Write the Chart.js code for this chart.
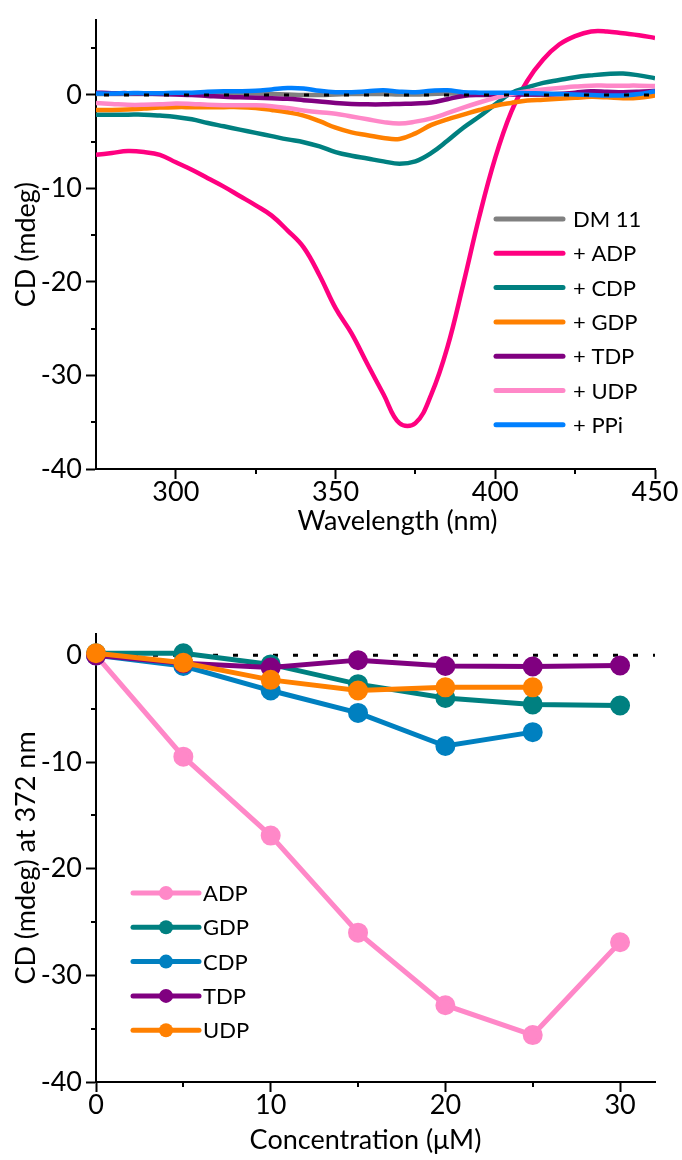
<!DOCTYPE html>
<html lang="en">
<head>
    <meta charset="UTF-8">
    <title>CD spectra</title>
    <script src="https://cdn.jsdelivr.net/npm/chart.js"></script>
    <style>
        body {
            margin: 0;
            background: #fff;
            font-family: Lato, sans-serif;
        }
        .wrap {
            position: relative;
            width: 682px;
            height: 1160px;
        }
        #spectra { position: absolute; left: 0; top: 0; }
        #titration { position: absolute; left: 0; top: 560px; }
    </style>
</head>
<body>
<div class="wrap">
    <canvas id="spectra" width="682" height="545"></canvas>
    <canvas id="titration" width="682" height="600"></canvas>
</div>

<script>
// ---- top panel: CD spectra (mdeg) ----
const wavelengths = [275, 280, 285, 290, 295, 300, 305, 310, 315, 320, 325, 330,
    335, 340, 345, 350, 355, 360, 365, 370, 375, 380, 385, 390,
    395, 400, 405, 410, 415, 420, 425, 430, 435, 440, 445, 450];

const dm11 = [0.1, 0.1, 0.1, 0.1, 0.1, 0.1, 0.1, 0.1, 0.1, 0.15, 0.15, 0.1,
    0.05, 0.0, 0.0, 0.05, 0.1, 0.1, 0.1, 0.05, 0.05, 0.1, 0.15, 0.15,
    0.1, 0.1, 0.1, 0.05, 0.05, 0.1, 0.1, 0.1, 0.1, 0.05, 0.05, 0.1];
const plusADP = [-6.4, -6.2, -6.0, -6.1, -6.4, -7.2, -8.0, -8.9, -9.8, -10.8, -11.8, -12.9,
    -14.5, -16.3, -19.3, -22.8, -25.5, -28.8, -32.0, -35.1, -35.1, -32.0, -27.0, -20.2,
    -13.0, -6.7, -1.8, 1.5, 3.8, 5.4, 6.3, 6.8, 6.8, 6.6, 6.4, 6.1];
const plusCDP = [-2.1, -2.1, -2.1, -2.1, -2.2, -2.35, -2.6, -3.0, -3.35, -3.7, -4.05, -4.4,
    -4.75, -5.05, -5.5, -6.1, -6.5, -6.8, -7.1, -7.35, -7.1, -6.2, -4.9, -3.5,
    -2.3, -1.0, 0.2, 0.8, 1.3, 1.6, 1.9, 2.1, 2.25, 2.3, 2.1, 1.8];
const plusGDP = [-1.6, -1.6, -1.55, -1.45, -1.35, -1.3, -1.3, -1.3, -1.3, -1.3, -1.4, -1.6,
    -1.85, -2.2, -2.8, -3.5, -4.0, -4.3, -4.6, -4.7, -4.1, -3.2, -2.6, -2.1,
    -1.6, -1.15, -0.85, -0.6, -0.5, -0.4, -0.3, -0.2, -0.25, -0.35, -0.3, -0.05];
const plusTDP = [0.25, 0.2, 0.2, 0.15, 0.1, 0.05, 0.0, -0.1, -0.2, -0.25, -0.3, -0.35,
    -0.4, -0.55, -0.7, -0.85, -0.95, -1.0, -1.0, -0.95, -0.9, -0.8, -0.45, -0.1,
    0.0, 0.0, 0.05, 0.05, 0.05, 0.1, 0.25, 0.4, 0.35, 0.3, 0.35, 0.45];
const plusUDP = [-0.85, -0.95, -1.05, -1.05, -1.0, -0.9, -0.95, -1.05, -1.1, -1.1, -1.1, -1.2,
    -1.4, -1.65, -1.85, -2.0, -2.3, -2.6, -2.9, -3.05, -2.85, -2.5, -1.95, -1.35,
    -0.8, -0.3, 0.1, 0.4, 0.6, 0.75, 0.9, 1.0, 1.0, 1.0, 1.0, 0.95];
const plusPPi = [0.15, 0.15, 0.2, 0.2, 0.2, 0.25, 0.25, 0.35, 0.4, 0.4, 0.45, 0.6,
    0.75, 0.7, 0.45, 0.3, 0.3, 0.4, 0.5, 0.35, 0.3, 0.45, 0.5, 0.3,
    0.25, 0.25, 0.25, 0.2, 0.15, 0.1, 0.05, 0.0, -0.05, -0.05, 0.1, 0.4];

const spectraLabels = ['DM 11', '+ ADP', '+ CDP', '+ GDP', '+ TDP', '+ UDP', '+ PPi'];
const spectraColors = ['#808080', '#ff0080', '#008080', '#ff8000', '#800080', '#ff88c8', '#0080ff'];
const spectraSeries = [dm11, plusADP, plusCDP, plusGDP, plusTDP, plusUDP, plusPPi];

const waveTicks = [300, 350, 400, 450];
const waveMinor = [325, 375, 425];
const cdTicks = [-40, -30, -20, -10, 0];
const cdMinor = [-35, -25, -15, -5, 5];

// ---- bottom panel: CD at 372 nm vs concentration ----
const concentrations = [0, 5, 10, 15, 20, 25, 30];
const adp372 = [0, -9.5, -16.9, -26.0, -32.8, -35.6, -26.9];
const gdp372 = [0.2, 0.2, -0.85, -2.7, -4.0, -4.6, -4.7];
const cdp372 = [0, -1.0, -3.3, -5.4, -8.5, -7.2];
const tdp372 = [0, -0.75, -1.15, -0.45, -1.0, -1.05, -0.95];
const udp372 = [0.2, -0.7, -2.3, -3.3, -3.0, -3.0];

const titrLabels = ['ADP', 'GDP', 'CDP', 'TDP', 'UDP'];
const titrColors = ['#ff88c8', '#008080', '#0080c0', '#800080', '#ff8000'];
const titrSeries = [adp372, gdp372, cdp372, tdp372, udp372];

const concTicks = [0, 10, 20, 30];
const concMinor = [5, 15, 25];
const cd372Ticks = [-40, -30, -20, -10, 0];
const cd372Minor = [-35, -25, -15, -5];

const FONT = 'Lato';

// short minor tick marks on both axes
const minorTicks = {
    id: 'minorTicks',
    afterDraw(chart, args, opts) {
        const {ctx, chartArea, scales} = chart;
        ctx.save();
        ctx.strokeStyle = '#000';
        ctx.lineWidth = 2;
        ctx.beginPath();
        opts.x.forEach(v => {
            const px = Math.round(scales.x.getPixelForValue(v));
            ctx.moveTo(px, chartArea.bottom);
            ctx.lineTo(px, chartArea.bottom + opts.len);
        });
        opts.y.forEach(v => {
            const py = Math.round(scales.y.getPixelForValue(v));
            ctx.moveTo(chartArea.left, py);
            ctx.lineTo(chartArea.left - opts.len, py);
        });
        ctx.stroke();
        ctx.restore();
    }
};

// x axis title, placed by hand
const xTitle = {
    id: 'xTitle',
    afterDraw(chart, args, opts) {
        const {ctx, chartArea} = chart;
        ctx.save();
        ctx.font = '27px ' + FONT;
        ctx.fillStyle = '#000';
        ctx.textAlign = 'center';
        ctx.textBaseline = 'middle';
        ctx.fillText(opts.text, (chartArea.left + chartArea.right) / 2 + opts.dx, opts.y);
        ctx.restore();
    }
};

// legend drawn inside the plot
const insetLegend = {
    id: 'insetLegend',
    afterDatasetsDraw(chart, args, opts) {
        const ctx = chart.ctx;
        ctx.save();
        ctx.font = '22px ' + FONT;
        ctx.textBaseline = 'middle';
        let row = 0;
        chart.data.datasets.forEach(ds => {
            if (!ds.label) return;
            const y = opts.y + row * opts.gap;
            ctx.strokeStyle = ds.borderColor;
            ctx.lineWidth = 5;
            ctx.lineCap = 'round';
            ctx.beginPath();
            ctx.moveTo(opts.x, y);
            ctx.lineTo(opts.x + opts.len, y);
            ctx.stroke();
            if (opts.marker) {
                ctx.fillStyle = ds.borderColor;
                ctx.beginPath();
                ctx.arc(opts.x + opts.len / 2, y, 7, 0, Math.PI * 2);
                ctx.fill();
            }
            ctx.fillStyle = '#000';
            ctx.fillText(ds.label, opts.x + opts.len + opts.textGap, y + 1);
            row++;
        });
        ctx.restore();
    }
};

function axisOpts(min, max, ticks, pad, extra) {
    return Object.assign({
        type: 'linear',
        min: min,
        max: max,
        afterBuildTicks: scale => { scale.ticks = ticks.map(v => ({value: v})); },
        border: {display: true, color: '#000', width: 2},
        grid: {display: true, drawOnChartArea: false, drawTicks: true, tickLength: 10, tickColor: '#000', tickWidth: 2},
        ticks: {color: '#000', font: {family: FONT, size: 27}, padding: pad}
    }, extra);
}

const spectraSets = spectraSeries.map((vals, i) => ({
    label: spectraLabels[i],
    data: vals.map((v, j) => ({x: wavelengths[j], y: v})),
    borderColor: spectraColors[i],
    backgroundColor: spectraColors[i],
    borderWidth: 4.5,
    pointRadius: 0,
    tension: 0.4,
    order: spectraSeries.length - i
}));
spectraSets.push({
    label: '',
    data: [{x: 275, y: 0}, {x: 450, y: 0}],
    borderColor: '#000',
    borderWidth: 3,
    borderDash: [5, 15],
    borderDashOffset: 12,
    pointRadius: 0,
    order: -1
});

new Chart(document.getElementById('spectra'), {
    type: 'line',
    data: {datasets: spectraSets},
    options: {
        responsive: false,
        animation: false,
        devicePixelRatio: 1,
        layout: {padding: {top: 18, right: 27, left: 0, bottom: 0}},
        plugins: {
            legend: {display: false},
            tooltip: {enabled: false},
            minorTicks: {x: waveMinor, y: cdMinor, len: 5},
            xTitle: {text: 'Wavelength (nm)', dx: 22, y: 521},
            insetLegend: {x: 496, y: 219, gap: 34.3, len: 67, textGap: 10, marker: false}
        },
        scales: {
            x: axisOpts(275, 450, waveTicks, -3, {
                afterFit: scale => { scale.height = 76; }
            }),
            y: axisOpts(-40, 8, cdTicks, 4, {
                afterFit: scale => { scale.width = 96; },
                title: {display: true, text: 'CD (mdeg)', color: '#000', font: {family: FONT, size: 27}, padding: {top: 10, bottom: 0}}
            })
        }
    },
    plugins: [minorTicks, xTitle, insetLegend]
});

const titrSets = titrSeries.map((vals, i) => ({
    label: titrLabels[i],
    data: vals.map((v, j) => ({x: concentrations[j], y: v})),
    borderColor: titrColors[i],
    backgroundColor: titrColors[i],
    pointBackgroundColor: titrColors[i],
    pointBorderColor: titrColors[i],
    borderWidth: 5,
    pointRadius: 7.5,
    tension: 0,
    clip: false,
    order: titrSeries.length - i
}));
titrSets.push({
    label: '',
    data: [{x: 0, y: 0}, {x: 32, y: 0}],
    borderColor: '#000',
    borderWidth: 3,
    borderDash: [5, 15],
    borderDashOffset: 3,
    pointRadius: 0,
    order: 10
});

new Chart(document.getElementById('titration'), {
    type: 'line',
    data: {datasets: titrSets},
    options: {
        responsive: false,
        animation: false,
        devicePixelRatio: 1,
        layout: {padding: {top: 74, right: 27, left: 0, bottom: 0}},
        plugins: {
            legend: {display: false},
            tooltip: {enabled: false},
            minorTicks: {x: concMinor, y: cd372Minor, len: 5},
            xTitle: {text: 'Concentration (\u03bcM)', dx: -10, y: 580},
            insetLegend: {x: 133, y: 333, gap: 34.3, len: 66, textGap: 4, marker: true}
        },
        scales: {
            x: axisOpts(0, 32, concTicks, -3, {
                afterFit: scale => { scale.height = 78; }
            }),
            y: axisOpts(-40, 2, cd372Ticks, 4, {
                afterFit: scale => { scale.width = 96; },
                title: {display: true, text: 'CD (mdeg) at 372 nm', color: '#000', font: {family: FONT, size: 27}, padding: {top: 10, bottom: 0}}
            })
        }
    },
    plugins: [minorTicks, xTitle, insetLegend]
});
</script>
</body>
</html>
